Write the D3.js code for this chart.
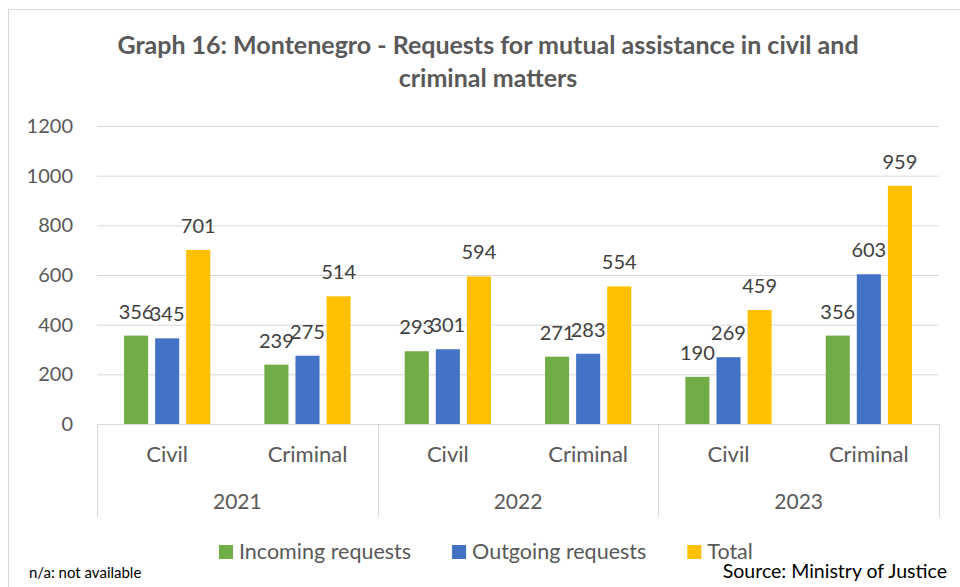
<!DOCTYPE html>
<html>
<head>
<meta charset="utf-8">
<script src="https://cdn.jsdelivr.net/npm/d3@7"></script>
<style>
  body { margin: 0; background: #fff; }
  svg { display: block; font-family: Lato, "Open Sans", sans-serif; }
</style>
</head>
<body>
<svg id="chart" width="960" height="587"></svg>
<script>
// ----------------------- DATA -------------------------------
var years = ["2021", "2022", "2023"];
var types = ["Civil", "Criminal"];
var seriesNames = ["Incoming requests", "Outgoing requests", "Total"];
var incoming = [356, 239, 293, 271, 190, 356];
var outgoing = [345, 275, 301, 283, 269, 603];
var total = [701, 514, 594, 554, 459, 959];
var yTicks = [0, 200, 400, 600, 800, 1000, 1200];

var colors = ["#70ad47", "#4472c4", "#ffc000"];

// one row per year/type pair
var data = [];
years.forEach(function(yr, i) {
  types.forEach(function(t, j) {
    var k = i * types.length + j;
    data.push({key: yr + "-" + t, year: yr, type: t,
      values: [incoming[k], outgoing[k], total[k]]});
  });
});

var svg = d3.select("#chart"),
    margin = {top: 126, left: 97, right: 21, bottom: 163},
    width = +svg.attr("width") - margin.left - margin.right,
    height = +svg.attr("height") - margin.top - margin.bottom;

// outer border of the chart area
svg.append("rect")
    .attr("x", 8.5).attr("y", 9.5)
    .attr("width", 960).attr("height", 600)
    .attr("fill", "none")
    .attr("stroke", "#d9d9d9");

// title
svg.append("text")
    .attr("x", 488).attr("y", 54)
    .attr("text-anchor", "middle")
    .attr("font-size", 25).attr("font-weight", "bold")
    .attr("fill", "#595959")
    .selectAll("tspan")
    .data(["Graph 16: Montenegro - Requests for mutual assistance in civil and", "criminal matters"])
    .enter().append("tspan")
      .attr("x", 488)
      .attr("dy", function(d, i) { return i ? 33 : 0; })
      .text(function(d) { return d; });

var g = svg.append("g").attr("transform", "translate(" + margin.left + "," + margin.top + ")");

var x0 = d3.scaleBand()
    .domain(data.map(function(d) { return d.key; }))
    .range([0, width]);

var x1 = d3.scaleBand()
    .domain(seriesNames)
    .range([0, x0.bandwidth()])
    .paddingInner(7 / 31)
    .paddingOuter(0.87);

var y = d3.scaleLinear()
    .domain([0, 1200])
    .range([height, 0]);

// gridlines + y labels
var yAxis = g.append("g")
    .call(d3.axisLeft(y).tickValues(yTicks).tickFormat(d3.format("d")).tickSize(-width).tickPadding(24));
yAxis.select(".domain").remove();
yAxis.selectAll(".tick line").attr("stroke", "#d9d9d9");
yAxis.selectAll(".tick text")
    .attr("font-family", "Lato, sans-serif")
    .attr("font-size", 20)
    .attr("fill", "#595959");

// bars
var groups = g.selectAll(".grp")
    .data(data)
    .enter().append("g")
      .attr("class", "grp")
      .attr("transform", function(d) { return "translate(" + x0(d.key) + ",0)"; });

groups.selectAll("rect")
    .data(function(d) { return d.values.map(function(v, i) { return {name: seriesNames[i], value: v, c: i}; }); })
    .enter().append("rect")
      .attr("x", function(d) { return x1(d.name); })
      .attr("y", function(d) { return y(d.value); })
      .attr("width", x1.bandwidth())
      .attr("height", function(d) { return height - y(d.value); })
      .attr("fill", function(d) { return colors[d.c]; });

// value labels (they overlap a bit in the original too)
groups.selectAll(".lbl")
    .data(function(d) { return d.values.map(function(v, i) { return {name: seriesNames[i], value: v}; }); })
    .enter().append("text")
      .attr("class", "lbl")
      .attr("x", function(d) { return x1(d.name) + x1.bandwidth() / 2; })
      .attr("y", function(d) { return y(d.value) - 17; })
      .attr("text-anchor", "middle")
      .attr("font-size", 20)
      .attr("fill", "#404040")
      .text(function(d) { return d.value; });

// category axis: baseline, separators, labels
var axisCol = "#d9d9d9";
g.append("line")
    .attr("x1", 0).attr("x2", width)
    .attr("y1", height + 0.5).attr("y2", height + 0.5)
    .attr("stroke", axisCol);

var sepX = [0];
years.forEach(function(yr) {
  sepX.push(x0(yr + "-" + types[types.length - 1]) + x0.bandwidth());
});
g.selectAll(".sep")
    .data(sepX)
    .enter().append("line")
      .attr("class", "sep")
      .attr("x1", function(d) { return Math.round(d) + 0.5; })
      .attr("x2", function(d) { return Math.round(d) + 0.5; })
      .attr("y1", height).attr("y2", height + 93)
      .attr("stroke", axisCol);

g.selectAll(".cat")
    .data(data)
    .enter().append("text")
      .attr("class", "cat")
      .attr("x", function(d) { return x0(d.key) + x0.bandwidth() / 2; })
      .attr("y", height + 38)
      .attr("text-anchor", "middle")
      .attr("font-size", 22)
      .attr("fill", "#595959")
      .text(function(d) { return d.type; });

g.selectAll(".yr")
    .data(years)
    .enter().append("text")
      .attr("class", "yr")
      .attr("x", function(d) { return (x0(d + "-" + types[0]) + x0(d + "-" + types[types.length - 1]) + x0.bandwidth()) / 2; })
      .attr("y", height + 85)
      .attr("text-anchor", "middle")
      .attr("font-size", 21)
      .attr("fill", "#595959")
      .text(function(d) { return d; });

// legend
var legend = svg.append("g").attr("transform", "translate(219,545)");
var lx = 0;
seriesNames.forEach(function(name, i) {
  var item = legend.append("g").attr("transform", "translate(" + lx + ",0)");
  item.append("rect")
      .attr("width", 14).attr("height", 14)
      .attr("fill", colors[i]);
  var t = item.append("text")
      .attr("x", 20).attr("y", 14)
      .attr("font-size", 21.5)
      .attr("fill", "#595959")
      .text(name);
  lx += 20 + t.node().getComputedTextLength() + 41;
});

// footer notes
svg.append("text")
    .attr("x", 29).attr("y", 578)
    .attr("font-size", 15)
    .attr("fill", "#000")
    .text("n/a: not available");

svg.append("text")
    .attr("x", 947).attr("y", 578)
    .attr("text-anchor", "end")
    .attr("font-size", 19.5)
    .attr("fill", "#000")
    .text("Source: Ministry of Justice");
</script>
</body>
</html>
